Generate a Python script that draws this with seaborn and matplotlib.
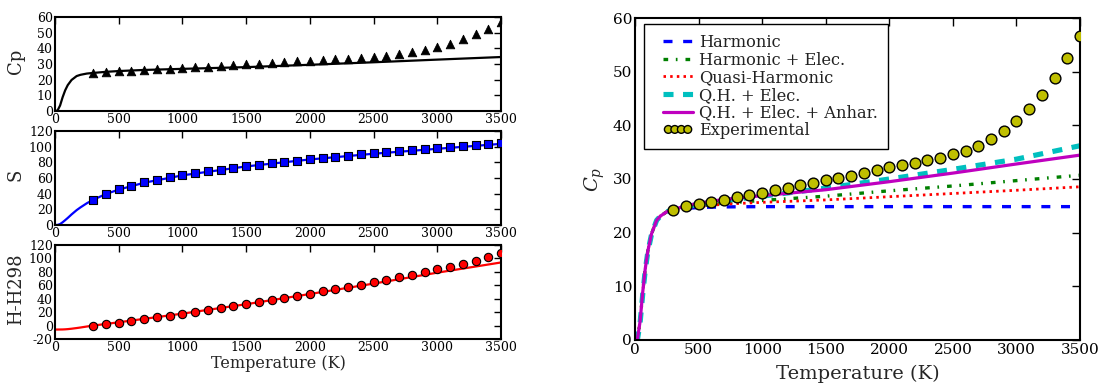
import matplotlib
matplotlib.use("Agg")
import matplotlib.pyplot as plt
from matplotlib.lines import Line2D
from matplotlib.collections import PathCollection
from matplotlib.legend_handler import HandlerLine2D, HandlerPathCollection
import seaborn as sns

sns.set_style("white")
plt.rcParams.update({
    "font.family": ["DejaVu Serif"],
    "mathtext.fontset": "dejavuserif",
    "axes.unicode_minus": False,
    "xtick.direction": "in",
    "ytick.direction": "in",
    "xtick.top": True,
    "ytick.right": True,
    "xtick.major.width": 1.0,
    "ytick.major.width": 1.0,
    "axes.linewidth": 1.5,
    "axes.edgecolor": "black",
    "xtick.color": "black",
    "ytick.color": "black",
    "text.color": "#222222",
})

# ---------------- data ----------------
# experimental temperatures (K)
T_exp = [300, 400, 500, 600, 700, 800, 900, 1000, 1100, 1200, 1300, 1400,
         1500, 1600, 1700, 1800, 1900, 2000, 2100, 2200, 2300, 2400, 2500,
         2600, 2700, 2800, 2900, 3000, 3100, 3200, 3300, 3400, 3500]
Cp_exp = [24.2, 24.9, 25.4, 25.8, 26.1, 26.6, 27.0, 27.4, 27.9, 28.4, 28.8,
          29.3, 29.8, 30.2, 30.6, 31.1, 31.6, 32.2, 32.7, 33.0, 33.5, 34.0,
          34.6, 35.2, 36.2, 37.5, 38.9, 40.8, 43.0, 45.7, 48.9, 52.5, 56.6]
S_exp = [32.2, 39.9, 45.4, 50.0, 54.3, 57.7, 61.1, 63.6, 66.2, 68.7, 70.8,
         72.9, 75.1, 77.2, 78.9, 80.6, 82.3, 84.0, 85.7, 87.4, 88.6, 90.3,
         91.6, 92.9, 94.1, 95.4, 96.7, 98.0, 99.2, 100.5, 101.8, 103.5, 105.2]
H_exp = [-0.2, 2.3, 4.3, 6.8, 9.3, 12.3, 14.7, 17.7, 20.2, 23.2, 26.2, 29.1,
         32.1, 35.1, 38.1, 41.1, 44.5, 47.5, 51.0, 54.5, 57.4, 60.9, 64.4,
         67.9, 71.8, 75.3, 79.8, 83.8, 87.7, 92.2, 96.7, 101.6, 107.6]

# model curves
T_mod = [0, 20, 40, 60, 80, 100, 130, 170, 200, 250, 300, 400, 500, 700,
         1000, 1500, 2000, 2500, 3000, 3500]
Cp_harm = [0, 0.3, 3.5, 8.8, 13.2, 16.5, 19.8, 22.3, 23.1, 23.9, 24.2, 24.5,
           24.7, 24.8, 24.85, 24.85, 24.85, 24.85, 24.85, 24.85]
Cp_harm_el = [0, 0.3, 3.5, 8.8, 13.2, 16.5, 19.8, 22.3, 23.1, 23.9, 24.2, 24.6,
              24.95, 25.5, 26.0, 26.8, 27.8, 28.7, 29.7, 30.7]
Cp_qh = [0, 0.3, 3.5, 8.8, 13.2, 16.5, 19.8, 22.3, 23.1, 23.9, 24.2, 24.6,
         24.9, 25.3, 25.65, 26.1, 26.7, 27.3, 27.9, 28.55]
Cp_qh_el = [0, 0.2, 3.2, 8.4, 12.9, 16.3, 19.7, 22.3, 23.1, 23.9, 24.3, 24.8,
            25.3, 26.0, 26.8, 28.3, 30.0, 31.8, 33.7, 36.2]
Cp_qh_el_anh = [0, 0.3, 3.5, 8.8, 13.2, 16.5, 19.8, 22.3, 23.1, 23.9, 24.3,
                25.0, 25.5, 26.2, 26.9, 28.0, 29.5, 31.1, 32.8, 34.45]
S_mod = [0, 0.1, 1.2, 3.5, 6.2, 9.0, 13.5, 19.0, 22.5, 27.8, 32.2, 39.6,
         45.2, 54.0, 63.4, 74.8, 83.7, 91.0, 97.3, 103.6]
H_mod = [-5.9, -5.9, -5.85, -5.8, -5.6, -5.3, -4.7, -3.7, -2.9, -1.4, 0.0,
         2.4, 4.9, 10.0, 17.8, 31.8, 47.0, 62.5, 78.8, 94.0]

xticks = [0, 500, 1000, 1500, 2000, 2500, 3000, 3500]

fig = plt.figure(figsize=(11.04, 3.83), dpi=100)

# ---------------- left panels ----------------
ax1 = fig.add_axes([0.0498, 0.7102, 0.404, 0.2454])
ax2 = fig.add_axes([0.0498, 0.4125, 0.404, 0.2454])
ax3 = fig.add_axes([0.0498, 0.1149, 0.404, 0.2454])

sns.lineplot(x=T_mod, y=Cp_qh_el_anh, ax=ax1, color="black", lw=1.6,
             sort=False, estimator=None)
sns.scatterplot(x=T_exp, y=Cp_exp, ax=ax1, marker="^", color="black",
                edgecolor="black", s=38, linewidth=0.6, zorder=3)
ax1.set_ylim(0, 60)
ax1.set_yticks([0, 10, 20, 30, 40, 50, 60])
ax1.set_ylabel("Cp", fontsize=13)

sns.lineplot(x=T_mod, y=S_mod, ax=ax2, color="blue", lw=1.6,
             sort=False, estimator=None)
sns.scatterplot(x=T_exp, y=S_exp, ax=ax2, marker="s", color="blue",
                edgecolor="black", s=30, linewidth=0.8, zorder=3)
ax2.set_ylim(0, 120)
ax2.set_yticks([0, 20, 40, 60, 80, 100, 120])
ax2.set_ylabel("S", fontsize=13)

sns.lineplot(x=T_mod, y=H_mod, ax=ax3, color="red", lw=1.6,
             sort=False, estimator=None)
sns.scatterplot(x=T_exp, y=H_exp, ax=ax3, marker="o", color="red",
                edgecolor="black", s=36, linewidth=0.8, zorder=3)
ax3.set_ylim(-20, 120)
ax3.set_yticks([-20, 0, 20, 40, 60, 80, 100, 120])
ax3.set_ylabel("H-H298", fontsize=13)
ax3.set_xlabel("Temperature (K)", fontsize=11.5, labelpad=1)

for ax in (ax1, ax2, ax3):
    ax.set_xlim(0, 3500)
    ax.set_xticks(xticks)
    ax.tick_params(labelsize=9, pad=1.5, length=5)
    ax.yaxis.set_label_coords(-0.068, 0.53)
    for sp in ax.spines.values():
        sp.set_linewidth(1.5)

# ---------------- right panel ----------------
axr = fig.add_axes([0.5752, 0.1123, 0.4031, 0.8407])
sns.lineplot(x=T_mod, y=Cp_harm, ax=axr, color="blue", lw=2.4,
             linestyle=(0, (2.7, 3.2)), sort=False, estimator=None,
             label="Harmonic")
sns.lineplot(x=T_mod, y=Cp_harm_el, ax=axr, color="green", lw=2.4,
             linestyle=(0, (1.4, 2.3, 0.5, 2.4)), sort=False, estimator=None,
             label="Harmonic + Elec.")
sns.lineplot(x=T_mod, y=Cp_qh, ax=axr, color="red", lw=2.0,
             linestyle=(0, (0.9, 1.5)), sort=False, estimator=None,
             label="Quasi-Harmonic")
sns.lineplot(x=T_mod, y=Cp_qh_el, ax=axr, color=(0, 0.75, 0.75), lw=3.7,
             linestyle=(0, (1.95, 1.85)), sort=False, estimator=None,
             label="Q.H. + Elec.")
sns.lineplot(x=T_mod, y=Cp_qh_el_anh, ax=axr, color=(0.75, 0, 0.75), lw=2.3,
             sort=False, estimator=None, label="Q.H. + Elec. + Anhar.")
sns.scatterplot(x=T_exp, y=Cp_exp, ax=axr, marker="o", color=(0.75, 0.75, 0),
                edgecolor="black", s=60, linewidth=1.0, zorder=3,
                label="Experimental")
axr.set_xlim(0, 3500)
axr.set_ylim(0, 60)
axr.set_xticks(xticks)
axr.set_yticks([0, 10, 20, 30, 40, 50, 60])
axr.tick_params(labelsize=11, pad=2, length=6)
for sp in axr.spines.values():
    sp.set_linewidth(1.5)
axr.set_xlabel("Temperature (K)", fontsize=14, labelpad=6)
axr.set_ylabel("$C_p$", fontsize=14, labelpad=4)
hmap = {Line2D: HandlerLine2D(xpad=0.6),
        PathCollection: HandlerPathCollection(xpad=0.6)}
leg = axr.legend(loc="upper left", bbox_to_anchor=(0.02, 0.981),
                 borderaxespad=0, fontsize=11.7, scatterpoints=4,
                 handlelength=2.4, labelspacing=0.04, borderpad=0.6,
                 handletextpad=0.4, fancybox=False, framealpha=1,
                 edgecolor="black", scatteryoffsets=[0.5], markerscale=0.72,
                 handler_map=hmap)
leg.get_frame().set_linewidth(1.0)

fig.savefig("out.png", dpi=100)
